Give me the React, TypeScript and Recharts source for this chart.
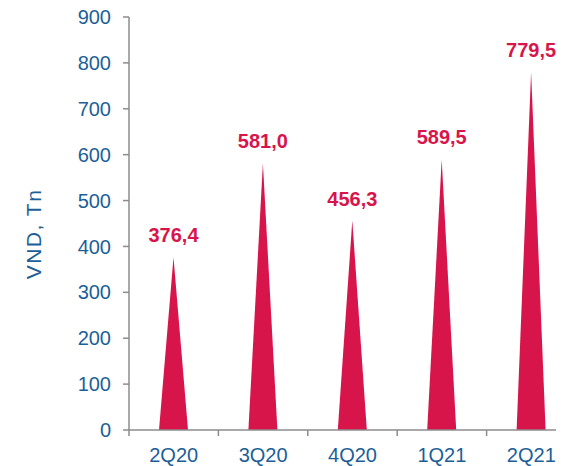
import React from 'react';
import { BarChart, Bar, XAxis, YAxis, LabelList } from 'recharts';

/* ---------- data ---------- */
const quarters = ['2Q20', '3Q20', '4Q20', '1Q21', '2Q21'];
const volumes = [376.4, 581.0, 456.3, 589.5, 779.5];
const yTicks = [0, 100, 200, 300, 400, 500, 600, 700, 800, 900];

const rows = quarters.map((q, i) => ({ quarter: q, value: volumes[i] }));

/* ---------- colors ---------- */
const CRIMSON = '#D7154B';
const BLUE = '#1C5F98';
const AXIS = '#8C8C8C';
const FONT = "Arial, 'Liberation Sans', sans-serif";

const TICK_SIZE = 6;
const X_TICK_GAP = 12;

// triangular "spike" bar
const Spike = (props: any) => {
  const { x, y, width, height, fill } = props;
  const cx = x + width / 2;
  return (
    <path
      d={`M${x},${y + height} L${cx},${y} L${x + width},${y + height} Z`}
      fill={fill}
    />
  );
};

// category label at band centre, tick mark on the band boundary
const QuarterTick = (props: any) => {
  const { x, y, payload } = props;
  const half = payload?.offset ?? 44.7;
  const axisY = y - TICK_SIZE - X_TICK_GAP;
  return (
    <g>
      <line
        x1={x - half}
        x2={x - half}
        y1={axisY}
        y2={axisY + TICK_SIZE}
        stroke={AXIS}
        strokeWidth={1.5}
      />
      <text
        x={x}
        y={y}
        dy="0.71em"
        textAnchor="middle"
        fill={BLUE}
        fontSize={20}
        fontFamily={FONT}
      >
        {payload.value}
      </text>
    </g>
  );
};

const fmt = (v: any) => Number(v).toFixed(1).replace('.', ',');

export default function App() {
  // the last band runs past the right edge of the page; the viewport clips it
  return (
    <div style={{ fontFamily: FONT }}>
      <style>{'body{overflow:hidden} .recharts-surface{overflow:visible}'}</style>
      <BarChart
        width={572}
        height={458}
        data={rows}
        margin={{ top: 9, right: 4, left: 0, bottom: 0 }}
      >
        <XAxis
          dataKey="quarter"
          height={36}
          axisLine={{ stroke: AXIS, strokeWidth: 1.5 }}
          tickLine={false}
          tickSize={TICK_SIZE}
          tickMargin={X_TICK_GAP}
          tick={<QuarterTick />}
          interval={0}
        />
        <YAxis
          width={121}
          domain={[0, 900]}
          ticks={yTicks}
          interval={0}
          axisLine={{ stroke: AXIS, strokeWidth: 1.5 }}
          tickLine={{ stroke: AXIS, strokeWidth: 1.5 }}
          tickSize={TICK_SIZE}
          tickMargin={12}
          tick={{ fill: BLUE, fontSize: 20, fontFamily: FONT }}
          label={{
            content: () => {
              const cx = 25;
              const cy = 226;
              return (
                <text
                  x={cx}
                  y={cy}
                  transform={`rotate(-90 ${cx} ${cy})`}
                  textAnchor="middle"
                  dominantBaseline="central"
                  fill={BLUE}
                  fontSize={21}
                  letterSpacing={1.5}
                  fontFamily={FONT}
                >
                  VND, Tn
                </text>
              );
            },
          }}
        />
        <Bar
          dataKey="value"
          fill={CRIMSON}
          barSize={29}
          shape={<Spike />}
          isAnimationActive={false}
        >
          <LabelList
            dataKey="value"
            position="top"
            offset={15}
            formatter={fmt}
            fill={CRIMSON}
            fontSize={20}
            fontWeight="bold"
            fontFamily={FONT}
          />
        </Bar>
      </BarChart>
    </div>
  );
}
